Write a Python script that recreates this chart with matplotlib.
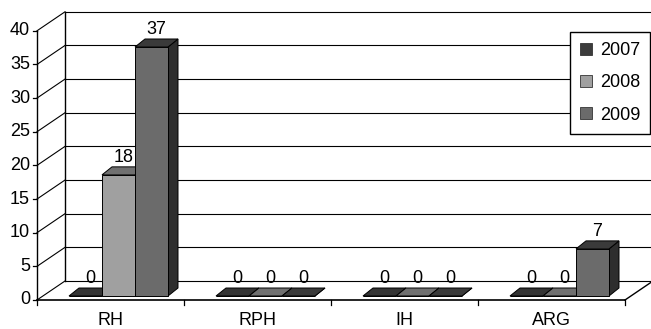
import matplotlib.pyplot as plt
from matplotlib.patches import Polygon, Patch

plt.rcParams['font.family'] = ['Liberation Sans', 'DejaVu Sans']

categories = ['RH', 'RPH', 'IH', 'ARG']
years = ['2007', '2008', '2009']
v2007 = [0, 0, 0, 0]
v2008 = [18, 0, 0, 0]
v2009 = [37, 0, 0, 7]
yticks = [0, 5, 10, 15, 20, 25, 30, 35, 40]

front = ['#3c3c3c', '#a0a0a0', '#6b6b6b']
top = ['#343434', '#707070', '#3a3a3a']
side = ['#222222', '#555555', '#2e2e2e']

# pixel scale of the drawing: one category = 147 px, one unit = 6.73 px
PX = 1 / 147
PY = 1 / 6.73
DX, DY = 28 * PX, 19 * PY          # depth of the back wall
W = 33 * PX                         # bar width
FX, FY = 8 * PX, 4 * PY             # bar front plane shift
BX, BY = 10 * PX, 8 * PY            # bar depth
FS = 13

fig = plt.figure(figsize=(6.51, 3.29), dpi=100)
ax = fig.add_axes([0, 0, 1, 1])
ax.set_xlim(-37 * PX, 614 * PX)
ax.set_ylim(-29 * PY, 300 * PY)
ax.axis('off')

ymax = yticks[-1]
xend = len(categories)

# back wall gridlines and left side wall
for t in yticks:
    ax.plot([0, DX], [t, t + DY], color='black', lw=0.8)
    ax.plot([DX, 5], [t + DY, t + DY], color='black', lw=0.8)
    ax.plot([-4 * PX, 0], [t, t], color='black', lw=0.9)
    ax.annotate(str(t), xy=(0, t), xytext=(-7, 0), textcoords='offset pixels',
                ha='right', va='center', fontsize=FS)
ax.plot([0, 0], [0, ymax], color='black', lw=1)
ax.plot([DX, DX], [DY, ymax + DY], color='black', lw=1)

# floor
ax.plot([0, xend], [0, 0], color='black', lw=1.2)
ax.plot([xend, xend + DX], [0, DY], color='black', lw=1)
for i in range(xend + 1):
    ax.plot([i, i], [0, -5 * PY], color='black', lw=0.9)
for i, c in enumerate(categories):
    ax.text(i + 0.5, -28.6 * PY, c, ha='center', va='bottom', fontsize=FS)

# 3d bars
series = [v2007, v2008, v2009]
for ci in range(len(categories)):
    for si, vals in enumerate(series):
        v = vals[ci]
        x0 = ci + 0.5 - 1.5 * W + si * W + FX
        b = FY
        ax.add_patch(Polygon([(x0 + W, b), (x0 + W + BX, b + BY), (x0 + W + BX, b + v + BY), (x0 + W, b + v)],
                             closed=True, facecolor=side[si], edgecolor='black', lw=0.7, zorder=3))
        ax.add_patch(Polygon([(x0, b), (x0 + W, b), (x0 + W, b + v), (x0, b + v)],
                             closed=True, facecolor=front[si], edgecolor='black', lw=0.7, zorder=3))
        ax.add_patch(Polygon([(x0, b + v), (x0 + W, b + v), (x0 + W + BX, b + v + BY), (x0 + BX, b + v + BY)],
                             closed=True, facecolor=top[si], edgecolor='black', lw=0.7, zorder=3))
        ax.annotate(str(v), xy=(x0 + W / 2 + BX / 2, b + v + BY), xytext=(0, 1),
                    textcoords='offset pixels', ha='center', va='bottom', fontsize=FS, zorder=4)

handles = [Patch(facecolor=front[i], edgecolor='#333333', lw=0.6, label=y) for i, y in enumerate(years)]
leg = ax.legend(handles=handles, loc='upper right', bbox_to_anchor=(650 / 651, 1 - 32 / 329),
                frameon=True, fancybox=False, edgecolor='black', framealpha=1,
                fontsize=FS, handlelength=0.65, handleheight=0.65, handletextpad=0.45,
                labelspacing=0.85, borderpad=0.55, borderaxespad=0)
leg.get_frame().set_linewidth(1)

fig.savefig('out.png', dpi=100)
